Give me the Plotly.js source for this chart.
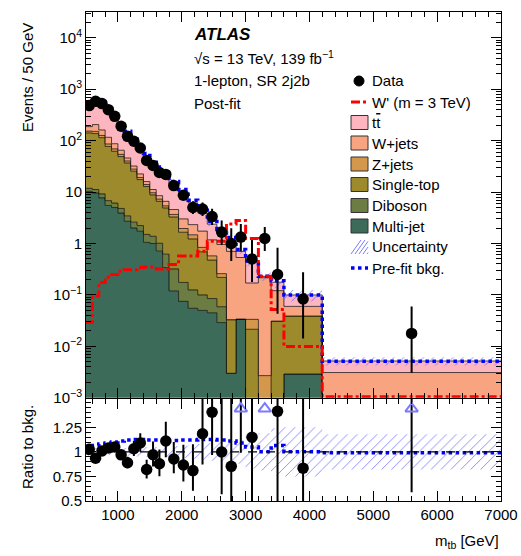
<!DOCTYPE html>
<html><head><meta charset="utf-8">
<script src="https://cdn.plot.ly/plotly-3.0.1.min.js"></script>
<style>body{margin:0;padding:0;background:#fff}#chart{width:521px;height:556px}</style>
</head><body><div id="chart"></div>
<script>
// ---------------- data ----------------
const binEdges = [500,600,700,800,900,1000,1100,1200,1300,1400,1500,1600,1700,1800,1950,2100,2250,2400,2550,2700,2850,3000,3200,3400,3600,4200,7000];
const dataEvents = [960,1160,1050,800,592,380,242,194,144,82,66,48,44,40,26,15,14,10,5,3,4,2,5,1,1,1];
// background components, events / 50 GeV
const multijet  = [10.3,9.6,7.7,5.5,5.0,3.9,2.7,2.0,1.73,1.05,1.0,0.71,0.34,0.12,0.075,0.055,0.05,0.045,0.029,0.003,0.034,0,0,0,0.0029,0];
const diboson   = [1.5,1.6,1.5,1.3,1.1,0.9,0.75,0.6,0.5,0.45,0.38,0.3,0.28,0.2,0.1,0.07,0.05,0.04,0.03,0,0,0,0,0,0,0];
const singletop = [129.2,125.8,104.8,70.2,55.9,44.2,33.25,22.8,15.27,11.3,7.42,5.59,4.28,2.95,1.48,1.1,0.59,0.39,0.16,0.03,0,0.0215,0,0.031,0.036,0];
const zjets     = [12,14,12,9,7,5,3.5,2.5,1.7,1.2,0.9,0.7,0.5,0.4,0.3,0.25,0.15,0.1,0.04,0,0,0.012,0.0027,0,0,0];
const wjets     = [34,54,35,30,18,11,5.8,4.1,3.3,2.0,1.5,1.2,1.2,0.9,1.05,0.85,0.9,0.6,0.7,0.67,0.5,0.137,0.213,0.09,0.021,0.0031];
const ttbar     = [281,415,359,269,195,131,90,62,43.5,34,22.8,18.8,13.2,9.8,7.0,3.85,2.2,1.2,0.71,0.47,0.17,0.265,0.014,0.056,0.04,0.0021];
const relUncertainty = [0.04,0.04,0.035,0.035,0.035,0.04,0.04,0.045,0.05,0.05,0.05,0.05,0.055,0.06,0.06,0.07,0.08,0.09,0.10,0.11,0.12,0.17,0.19,0.24,0.25,0.18];
const prefitOverPostfit = [1.04,1.065,1.08,1.09,1.10,1.11,1.12,1.125,1.125,1.12,1.12,1.12,1.12,1.115,1.12,1.12,1.125,1.125,1.12,1.11,1.09,1.05,1.0,1.065,1.0,0.99];
const wprimeSignal = [0.029,0.095,0.175,0.22,0.25,0.29,0.31,0.31,0.34,0.35,0.35,0.32,0.32,0.39,0.57,0.57,0.71,1.1,1.1,2.4,2.8,1.25,0.23,0.052,0.01,0.00105];

const xTickVals = [1000,2000,3000,4000,5000,6000,7000];
const yTickVals = [1e-3,1e-2,1e-1,1,10,100,1e3,1e4];
const yTickText = ['10<sup>−3</sup>','10<sup>−2</sup>','10<sup>−1</sup>','1','10','10<sup>2</sup>','10<sup>3</sup>','10<sup>4</sup>'];
const ratioTickVals = [0.5,0.75,1,1.25];
const ratioTickText = ['0.5','0.75','1','1.25'];

const componentNames = ['Multi-jet','Diboson','Single-top','Z+jets','W+jets','tt'];
const componentColors = ['#3d6b59','#6b7d42','#9c8a2d','#d4984c','#f9a480','#fdb6bf'];

// ---------------- derived ----------------
const nb = dataEvents.length;
const FLOOR = 1e-7;
const widths = [], centers = [];
for (let i=0;i<nb;i++){ widths.push(binEdges[i+1]-binEdges[i]); centers.push(0.5*(binEdges[i]+binEdges[i+1])); }
const comps = [multijet,diboson,singletop,zjets,wjets,ttbar];
const cum = []; let run = new Array(nb).fill(0);
comps.forEach(c=>{ run = run.map((v,i)=>v+c[i]); cum.push(run.slice()); });
const total = cum[cum.length-1];
const dataVal = dataEvents.map((n,i)=>n*50/widths[i]);
function poissonUp(n){ return Math.sqrt(n+0.75)+1; }
function poissonDn(n){ if(n<=0) return 0; const l = n*Math.pow(1-1/(9*n)-1/(3*Math.sqrt(n)),3); return n-l; }
const errUp = dataEvents.map((n,i)=>poissonUp(n)*50/widths[i]);
const errDn = dataEvents.map((n,i)=>poissonDn(n)*50/widths[i]);
const ratio = dataVal.map((v,i)=>v/total[i]);
const ratioUp = errUp.map((e,i)=>e/total[i]);
const ratioDn = errDn.map((e,i)=>e/total[i]);

function step(vals){ const y = vals.map(v=>Math.max(v,FLOOR)); y.push(y[y.length-1]); return {x: binEdges.slice(), y: y}; }

const traces = [];
let s = step(new Array(nb).fill(FLOOR));
traces.push({x:s.x,y:s.y,mode:'lines',line:{width:0,shape:'hv'},showlegend:false,hoverinfo:'skip'});
cum.forEach((c,k)=>{
  const st = step(c);
  traces.push({x:st.x,y:st.y,mode:'lines',fill:'tonexty',fillcolor:componentColors[k],
    line:{color:'#000',width:0.7,shape:'hv'},name:componentNames[k],showlegend:false,hoverinfo:'skip'});
});
const lo = step(total.map((t,i)=>t*(1-relUncertainty[i])));
const hi = step(total.map((t,i)=>t*(1+relUncertainty[i])));
const hatch = {shape:'/',fgcolor:'rgba(90,90,255,0.8)',bgcolor:'rgba(0,0,0,0)',size:7,solidity:0.12};
traces.push({x:lo.x,y:lo.y,mode:'lines',line:{width:0,shape:'hv'},showlegend:false,hoverinfo:'skip'});
traces.push({x:hi.x,y:hi.y,mode:'lines',fill:'tonexty',fillcolor:'rgba(0,0,0,0)',fillpattern:hatch,line:{width:0,shape:'hv'},showlegend:false,hoverinfo:'skip'});
const pf = step(total.map((t,i)=>t*prefitOverPostfit[i]));
traces.push({x:pf.x,y:pf.y,mode:'lines',line:{color:'#0000ff',width:3.5,dash:'dot',shape:'hv'},showlegend:false});
const sg = step(wprimeSignal);
traces.push({x:sg.x,y:sg.y,mode:'lines',line:{color:'#ff0000',width:3,dash:'dashdot',shape:'hv'},showlegend:false});
traces.push({x:centers,y:dataVal,mode:'markers',marker:{color:'#000',size:11.5},
  error_y:{type:'data',symmetric:false,array:errUp,arrayminus:errDn,color:'#000',thickness:2,width:0},showlegend:false});

const rlo = step(relUncertainty.map(u=>1-u));
const rhi = step(relUncertainty.map(u=>1+u));
traces.push({x:rlo.x,y:rlo.y,xaxis:'x2',yaxis:'y2',mode:'lines',line:{width:0,shape:'hv'},showlegend:false,hoverinfo:'skip'});
traces.push({x:rhi.x,y:rhi.y,xaxis:'x2',yaxis:'y2',mode:'lines',fill:'tonexty',fillcolor:'rgba(0,0,0,0)',fillpattern:hatch,line:{width:0,shape:'hv'},showlegend:false,hoverinfo:'skip'});
const rpf = step(prefitOverPostfit);
traces.push({x:rpf.x,y:rpf.y,xaxis:'x2',yaxis:'y2',mode:'lines',line:{color:'#0000ff',width:3.5,dash:'dot',shape:'hv'},showlegend:false});
traces.push({x:[500,7000],y:[1,1],xaxis:'x2',yaxis:'y2',mode:'lines',line:{color:'#000',width:1.2,dash:'dash'},showlegend:false});
traces.push({x:centers,y:ratio,xaxis:'x2',yaxis:'y2',mode:'markers',marker:{color:'#000',size:11.5},cliponaxis:true,
  error_y:{type:'data',symmetric:false,array:ratioUp,arrayminus:ratioDn,color:'#000',thickness:2,width:0},showlegend:false});
const RMAX = 1.54;
const offX = centers.filter((c,i)=>ratio[i]>RMAX);
traces.push({x:offX,y:offX.map(()=>1.44),xaxis:'x2',yaxis:'y2',mode:'markers',
  marker:{symbol:'triangle-up-open',size:11,color:'#7a7aff',line:{width:2}},showlegend:false});

// ---------------- layout ----------------
const W=521,H=556,L=86,R=20,T=12,B=55;
const pw=W-L-R, ph=H-T-B;
const px = x=>(x-L)/pw, py = y=>(H-B-y)/ph;
const font = {family:'Liberation Sans, Arial, Helvetica, sans-serif',size:15,color:'#000'};
const minorLog = [];
for(let e=-3;e<5;e++){ for(let m=2;m<10;m++){ const v=m*Math.pow(10,e); if(v<3.2e4) minorLog.push(v);} }

const annotations = [];
function txt(t,x,y,opt){ annotations.push(Object.assign({text:t,xref:'paper',yref:'paper',x:px(x),y:py(y),xanchor:'left',yanchor:'middle',showarrow:false,font:font},opt||{})); }
txt('<b><i>ATLAS</i></b>',192,34,{font:Object.assign({},font,{size:17})});
txt('√s = 13 TeV, 139 fb<sup>−1</sup>',192,57);
txt('1-lepton, SR 2j2b',192,80);
txt('Post-fit',192,103);
const legY = [81,102,122.5,143,164,184.5,205.5,226,247,268];
const legText = ['Data','W\' (m = 3 TeV)','t<span style="text-decoration:overline">t</span>','W+jets','Z+jets','Single-top','Diboson','Multi-jet','Uncertainty','Pre-fit bkg.'];
legText.forEach((t,i)=>txt(t,370,legY[i]));
txt('Events / 50 GeV',27,78,{textangle:-90,xanchor:'center',yanchor:'middle'});
txt('Ratio to bkg.',27,447,{textangle:-90,xanchor:'center',yanchor:'middle'});
txt('m<sub>tb</sub> [GeV]',501,541,{xanchor:'right'});

const shapes = [];
function pshape(o){ shapes.push(Object.assign({xref:'paper',yref:'paper'},o)); }
pshape({type:'circle',x0:px(354),x1:px(364),y0:py(76),y1:py(86),fillcolor:'#000',line:{color:'#000',width:1}});
pshape({type:'line',x0:px(351),x1:px(368),y0:py(102),y1:py(102),line:{color:'#ff0000',width:3,dash:'dashdot'}});
const boxCols = ['#fdb6bf','#f9a480','#d4984c','#9c8a2d','#6b7d42','#3d6b59'];
boxCols.forEach((c,i)=>{ const y=legY[i+2]; pshape({type:'rect',x0:px(351),x1:px(368),y0:py(y-7),y1:py(y+7),fillcolor:c,line:{color:'#333',width:1}}); });
for(let k=0;k<5;k++){ const x0=351+k*4; const x1=Math.min(x0+10,368); pshape({type:'line',x0:px(x0),x1:px(x1),y0:py(254),y1:py(254-14*(x1-x0)/10),line:{color:'rgba(90,90,255,0.8)',width:1}}); }
pshape({type:'line',x0:px(351),x1:px(368),y0:py(268),y1:py(268),line:{color:'#0000ff',width:3.5,dash:'dot'}});

const axBase = {showgrid:false,zeroline:false,showline:true,linecolor:'#000',linewidth:1,ticks:'inside',tickcolor:'#000',mirror:'allticks',tickfont:font};
const layout = {
  width:W,height:H,margin:{l:L,r:R,t:T,b:B},paper_bgcolor:'#fff',plot_bgcolor:'#fff',font:font,showlegend:false,
  xaxis:Object.assign({},axBase,{domain:[0,1],anchor:'y',range:[500,7000],tickvals:xTickVals,ticklen:10,showticklabels:false,
    minor:{dtick:200,tick0:0,ticks:'inside',ticklen:5,tickcolor:'#000'}}),
  yaxis:Object.assign({},axBase,{domain:[0.211,1],anchor:'x',type:'log',range:[-3,4.5],tickvals:yTickVals,ticktext:yTickText,ticklen:10,
    minor:{tickvals:minorLog,ticks:'inside',ticklen:5,tickcolor:'#000'}}),
  xaxis2:Object.assign({},axBase,{domain:[0,1],anchor:'y2',range:[500,7000],tickvals:xTickVals,ticktext:xTickVals.map(String),ticklen:10,
    minor:{dtick:200,tick0:0,ticks:'inside',ticklen:5,tickcolor:'#000'}}),
  yaxis2:Object.assign({},axBase,{domain:[0,0.209],anchor:'x2',range:[0.5,RMAX],tickvals:ratioTickVals,ticktext:ratioTickText,ticklen:10,
    minor:{dtick:0.05,tick0:0.5,ticks:'inside',ticklen:5,tickcolor:'#000'}}),
  annotations:annotations,shapes:shapes
};
Plotly.newPlot('chart',traces,layout,{displayModeBar:false,staticPlot:true});
</script></body></html>
